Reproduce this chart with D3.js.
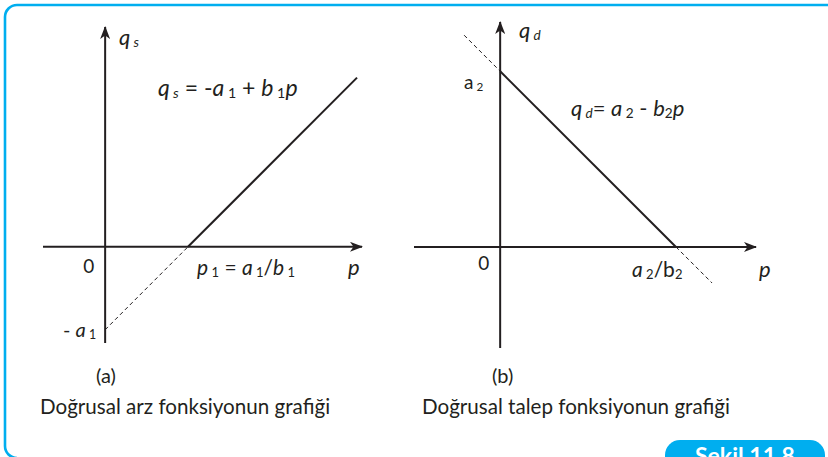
<!DOCTYPE html>
<html>
<head>
<meta charset="utf-8">
<script src="https://cdn.jsdelivr.net/npm/d3@7"></script>
<style>
    body { margin: 0; background: #fff; }
    svg { display: block; }
    text { font-family: "Lato", "Open Sans", sans-serif; fill: #231f20; }
</style>
</head>
<body>
<div id="chart"></div>
<script>
// supply line q = -a1 + b1 p  (a1 = 1, b1 = 1)
const supplySolid = [{ p: 1, q: 0 }, { p: 3.04, q: 2.04 }];
const supplyDashed = [{ p: 0, q: -1 }, { p: 1, q: 0 }];
const supplyDomainP = [-0.75, 3.1];
const supplyDomainQ = [-1.16, 2.65];

// demand line q = a2 - b2 p  (a2 = 2, b2 = 1)
const demandSolid = [{ p: 0, q: 2 }, { p: 2, q: 0 }];
const demandDashedTop = [{ p: -0.41, q: 2.41 }, { p: 0, q: 2 }];
const demandDashedBottom = [{ p: 2, q: 0 }, { p: 2.41, q: -0.41 }];
const demandDomainP = [-0.98, 2.91];
const demandDomainQ = [-1.15, 2.56];

// text labels
const panelLetters = ["(a)", "(b)"];
const panelTitles = ["Doğrusal arz fonksiyonun grafiği", "Doğrusal talep fonksiyonun grafiği"];
const figureLabel = "Şekil 11.8";

const W = 828, H = 457;
const blue = "#00aeef";
const ink = "#231f20";

let svg = d3.select("#chart").append("svg")
    .attr("width", W)
    .attr("height", H);

// arrow head marker
svg.append("defs").append("marker")
    .attr("id", "arrow")
    .attr("viewBox", "0 0 13 10")
    .attr("refX", 12)
    .attr("refY", 5)
    .attr("markerUnits", "userSpaceOnUse")
    .attr("markerWidth", 13)
    .attr("markerHeight", 10)
    .attr("orient", "auto")
    .append("path")
    .attr("d", "M0,0 L13,5 L0,10 L3.5,5 Z")
    .attr("fill", ink);

// frame
svg.append("path")
    .attr("d", "M" + W + ",5 L17,5 A12,12 0 0 0 5,17 L5,446 A12,12 0 0 0 17,458")
    .attr("fill", "none")
    .attr("stroke", blue)
    .attr("stroke-width", 2.6);

// badge (cut by the bottom edge, like the source page)
svg.append("rect")
    .attr("x", 665).attr("y", 440)
    .attr("width", 160).attr("height", 40)
    .attr("rx", 15)
    .attr("fill", blue);
svg.append("text")
    .attr("x", 695).attr("y", 464)
    .style("fill", "#fff")
    .style("font-weight", "bold")
    .style("font-size", "23px")
    .text(figureLabel);

// builds text with italic letters and subscripts
function richText(g, x, y, parts, size) {
    let t = g.append("text")
        .attr("x", x).attr("y", y)
        .style("font-size", size + "px");
    let shifted = false;
    parts.forEach(function (d) {
        let ts = t.append("tspan").text(d.t);
        if (d.it) ts.style("font-style", "italic");
        if (d.sub) {
            ts.style("font-size", (size * 0.62) + "px");
            if (!shifted) { ts.attr("dy", 2); shifted = true; }
        } else if (shifted) {
            ts.attr("dy", -2); shifted = false;
        }
    });
    return t;
}

class LinearPanel {

    constructor(config) {
        this.config = config;
        this.initVis();
    }

    initVis() {
        let vis = this;
        let c = vis.config;

        vis.g = svg.append("g");

        vis.x = d3.scaleLinear().domain(c.domainP).range(c.rangeX);
        vis.y = d3.scaleLinear().domain(c.domainQ).range(c.rangeY);

        vis.line = d3.line()
            .x(d => vis.x(d.p))
            .y(d => vis.y(d.q));

        vis.updateVis();
    }

    updateVis() {
        let vis = this;
        let c = vis.config;

        // axes with arrows
        vis.g.append("line")
            .attr("x1", vis.x(c.domainP[0])).attr("x2", vis.x(c.domainP[1]))
            .attr("y1", vis.y(0)).attr("y2", vis.y(0))
            .attr("stroke", ink).attr("stroke-width", 2)
            .attr("marker-end", "url(#arrow)");

        vis.g.append("line")
            .attr("x1", vis.x(0)).attr("x2", vis.x(0))
            .attr("y1", vis.y(c.domainQ[0])).attr("y2", vis.y(c.domainQ[1]))
            .attr("stroke", ink).attr("stroke-width", 2)
            .attr("marker-end", "url(#arrow)");

        // solid part
        vis.g.append("path")
            .datum(c.solid)
            .attr("d", vis.line)
            .attr("fill", "none")
            .attr("stroke", ink)
            .attr("stroke-width", 2);

        // dashed extensions
        vis.g.selectAll(".dash")
            .data(c.dashed)
            .join("path")
            .attr("class", "dash")
            .attr("d", vis.line)
            .attr("fill", "none")
            .attr("stroke", ink)
            .attr("stroke-width", 1)
            .attr("stroke-dasharray", "4,3");

        // labels
        vis.g.append("text")
            .attr("x", vis.x(0) - 22).attr("y", vis.y(0) + c.zeroDy)
            .style("font-size", "19px")
            .text("0");

        c.labels.forEach(function (l) {
            richText(vis.g, l.x, l.y, l.parts, l.size);
        });

        vis.g.append("text")
            .attr("x", c.letterX).attr("y", 383)
            .style("font-size", "20px")
            .text(c.letter);

        vis.g.append("text")
            .attr("x", c.titleX).attr("y", 414)
            .style("font-size", "20.6px")
            .text(c.title);
    }
}

let panelA = new LinearPanel({
    domainP: supplyDomainP, domainQ: supplyDomainQ,
    rangeX: [43, 362], rangeY: [343, 27],
    solid: supplySolid, dashed: [supplyDashed],
    zeroDy: 26,
    letter: panelLetters[0], letterX: 96,
    title: panelTitles[0], titleX: 40,
    labels: [
        { x: 119, y: 45, size: 22, parts: [{ t: "q", it: 1 }, { t: " s", it: 1, sub: 1 }] },
        { x: 158, y: 96, size: 23, parts: [{ t: "q", it: 1 }, { t: " s", it: 1, sub: 1 }, { t: " = -" }, { t: "a", it: 1 }, { t: " 1", sub: 1 }, { t: " + " }, { t: "b", it: 1 }, { t: " 1", sub: 1 }, { t: "p", it: 1 }] },
        { x: 197, y: 275, size: 21, parts: [{ t: "p", it: 1 }, { t: " 1", sub: 1 }, { t: " = " }, { t: "a", it: 1 }, { t: " 1", sub: 1 }, { t: "/" }, { t: "b", it: 1 }, { t: " 1", sub: 1 }] },
        { x: 348, y: 275, size: 22, parts: [{ t: "p", it: 1 }] },
        { x: 63, y: 337, size: 20, parts: [{ t: "- " }, { t: "a", it: 1 }, { t: " 1", sub: 1 }] }
    ]
});

let panelB = new LinearPanel({
    domainP: demandDomainP, domainQ: demandDomainQ,
    rangeX: [414, 756], rangeY: [348, 22],
    solid: demandSolid, dashed: [demandDashedTop, demandDashedBottom],
    zeroDy: 23,
    letter: panelLetters[1], letterX: 492,
    title: panelTitles[1], titleX: 422,
    labels: [
        { x: 519, y: 38, size: 22, parts: [{ t: "q", it: 1 }, { t: " d", it: 1, sub: 1 }] },
        { x: 464, y: 89, size: 19, parts: [{ t: "a" }, { t: " 2", sub: 1 }] },
        { x: 571, y: 116, size: 22, parts: [{ t: "q", it: 1 }, { t: " d", it: 1, sub: 1 }, { t: "= " }, { t: "a", it: 1 }, { t: " 2", sub: 1 }, { t: " - " }, { t: "b", it: 1 }, { t: "2", sub: 1 }, { t: "p", it: 1 }] },
        { x: 632, y: 277, size: 21, parts: [{ t: "a", it: 1 }, { t: " 2", sub: 1 }, { t: "/b" }, { t: "2", sub: 1 }] },
        { x: 759, y: 277, size: 22, parts: [{ t: "p", it: 1 }] }
    ]
});
</script>
</body>
</html>
